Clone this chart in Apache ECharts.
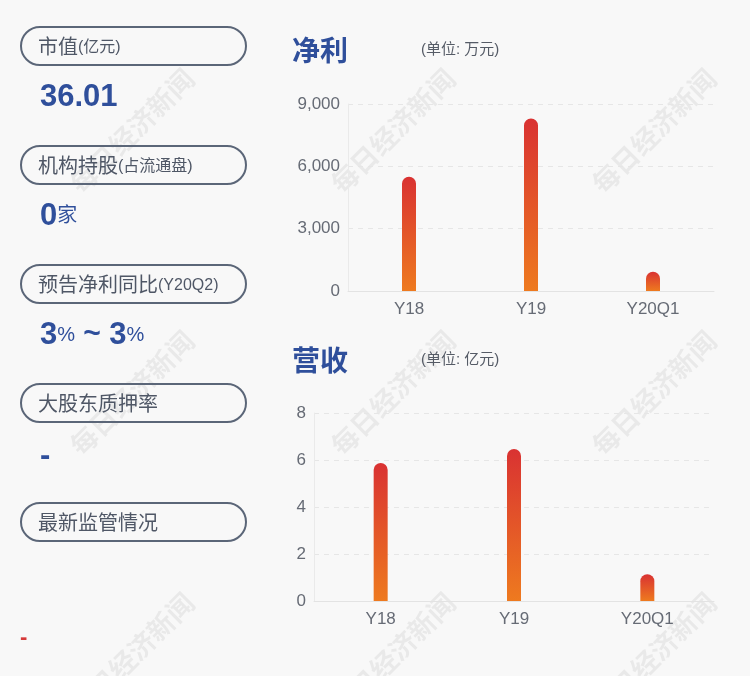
<!DOCTYPE html>
<html><head><meta charset="utf-8">
<script src="https://cdn.jsdelivr.net/npm/echarts@6/dist/echarts.min.js"></script>
<style>html,body{margin:0;padding:0;background:#f8f8f8}#c{width:750px;height:676px}</style>
</head><body><div id="c"></div>
<script>
const categories = ['Y18', 'Y19', 'Y20Q1'];
const netProfit = [5500, 8300, 930];
const revenue = [5.87, 6.47, 1.14];
const profitTicks = [0, 3000, 6000, 9000];
const revenueTicks = [0, 2, 4, 6, 8];
const infoLabels = [['市值', '(亿元)'], ['机构持股', '(占流通盘)'], ['预告净利同比', '(Y20Q2)'], ['大股东质押率', ''], ['最新监管情况', '']];
const marketCap = '36.01';
const institutions = '0';
const forecastLow = '3';
const forecastHigh = '3';
const pledge = '-';

const FF = '"Liberation Sans", "Noto Sans CJK SC", sans-serif';
const BLUE = '#2f4f9b';
const LBL = '#4f5766';
const AX = '#666b75';

const chart = echarts.init(document.getElementById('c'), null, {renderer: 'canvas'});

const graphics = [];
// watermarks
const wmX = [132, 393, 654], wmY = [131, 393, 655];
wmX.forEach(x => wmY.forEach(y => {
  graphics.push({type: 'text', x: x, y: y, rotation: Math.PI / 4, z: 0, silent: true,
    style: {text: '每日经济新闻', font: 'bold 27px "Noto Sans CJK SC"', fill: 'rgba(0,0,0,0.06)', textAlign: 'center', textVerticalAlign: 'middle'}});
}));
// boxes
const boxY = [27, 146, 265, 384, 503];
infoLabels.forEach((l, i) => {
  graphics.push({type: 'rect', shape: {x: 21, y: boxY[i], width: 225, height: 38, r: 19},
    style: {fill: 'none', stroke: '#5b6678', lineWidth: 2}, z: 5});
  graphics.push({type: 'text', x: 38, y: boxY[i] + 21, z: 6,
    style: {text: '{a|' + l[0] + '}' + (l[1] ? '{b|' + l[1] + '}' : ''), textVerticalAlign: 'middle',
      rich: {a: {fontSize: 20, fontFamily: FF, fill: LBL, color: LBL}, b: {fontSize: 16, fontFamily: FF, fill: LBL, color: LBL}}}});
});
const valRich = {v: {fontSize: 31, fontWeight: 'bold', fontFamily: FF, fill: BLUE, color: BLUE}, u: {fontSize: 20, fontFamily: FF, fill: BLUE, color: BLUE}, s: {fontSize: 30, fontWeight: 'bold', fontFamily: FF, fill: BLUE, color: BLUE}};
graphics.push({type: 'text', x: 40, y: 97, z: 6, style: {text: '{v|' + marketCap + '}', textVerticalAlign: 'middle', rich: valRich}});
graphics.push({type: 'text', x: 40, y: 216, z: 6, style: {text: '{v|' + institutions + '}{u|家}', textVerticalAlign: 'middle', rich: valRich}});
graphics.push({type: 'text', x: 40, y: 335, z: 6, style: {text: '{v|' + forecastLow + '}{u|%}{s| ~ }{v|' + forecastHigh + '}{u|%}', textVerticalAlign: 'middle', rich: valRich}});
graphics.push({type: 'text', x: 40, y: 456, z: 6, style: {text: '{v|' + pledge + '}', textVerticalAlign: 'middle', rich: valRich}});
graphics.push({type: 'text', x: 20, y: 638, z: 6, style: {text: '-', font: 'bold 22px "Liberation Sans"', fill: '#d63a3a', textVerticalAlign: 'middle'}});
// titles
[['净利', '(单位: 万元)', 50], ['营收', '(单位: 亿元)', 360]].forEach(t => {
  graphics.push({type: 'text', x: 292, y: t[2], z: 6, style: {text: t[0], font: 'bold 28px "Noto Sans CJK SC"', fill: BLUE, textVerticalAlign: 'middle'}});
  graphics.push({type: 'text', x: 421, y: t[2], z: 6, style: {text: t[1], font: '15px ' + FF, fill: '#555b66', textVerticalAlign: 'middle'}});
});

const barGrad = new echarts.graphic.LinearGradient(0, 0, 0, 1, [{offset: 0, color: '#d93232'}, {offset: 1, color: '#ee7a1f'}]);

function yAxis(idx, ticks) {
  return {type: 'value', gridIndex: idx, min: ticks[0], max: ticks[ticks.length - 1], interval: ticks[1] - ticks[0],
    axisLine: {show: true, lineStyle: {color: '#eaeaea'}}, axisTick: {show: false},
    axisLabel: {color: AX, fontSize: 17, fontFamily: FF, margin: 8},
    splitLine: {lineStyle: {color: '#e6e6e6', type: [5, 5]}}};
}
function xAxis(idx) {
  return {type: 'category', gridIndex: idx, data: categories, axisTick: {show: false},
    axisLine: {lineStyle: {color: '#e3e3e3'}}, axisLabel: {color: AX, fontSize: 17, fontFamily: FF, margin: 10}};
}

chart.setOption({
  backgroundColor: '#f8f8f8',
  animation: false,
  grid: [
    {left: 348, right: 36, top: 104, bottom: 385},
    {left: 314, right: 36, top: 413, bottom: 75}
  ],
  xAxis: [xAxis(0), xAxis(1)],
  yAxis: [yAxis(0, profitTicks), yAxis(1, revenueTicks)],
  series: [
    {type: 'bar', xAxisIndex: 0, yAxisIndex: 0, data: netProfit, barWidth: 14, itemStyle: {color: barGrad, borderRadius: [7, 7, 0, 0]}},
    {type: 'bar', xAxisIndex: 1, yAxisIndex: 1, data: revenue, barWidth: 14, itemStyle: {color: barGrad, borderRadius: [7, 7, 0, 0]}}
  ],
  graphic: graphics
});
</script></body></html>
